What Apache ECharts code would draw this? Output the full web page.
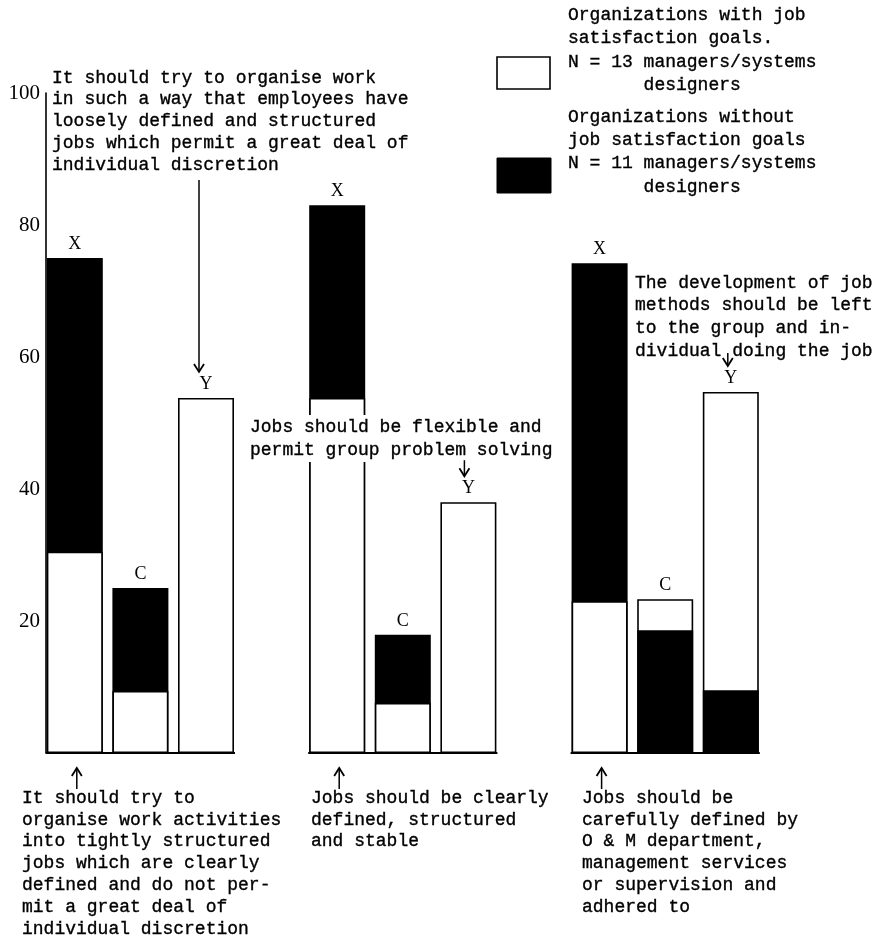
<!DOCTYPE html>
<html><head><meta charset="utf-8">
<script src="https://cdn.jsdelivr.net/npm/echarts@6/dist/echarts.min.js"></script>
<style>html,body{margin:0;padding:0;background:#fff}#c{width:876px;height:938px}</style>
</head><body><div id="c"></div>
<script>
// ---- data ----
const categories = ['X','C','Y','','X','C','Y','','X','C','Y'];
const withGoals    = [30.5, 9.4, 53.8, null, 53.8, 7.6, 38.0, null, 23.0, 23.3, 54.7];
const withoutGoals = [75.0, 25.0, 0,   null, 83.0, 17.9, 0,   null, 74.2, 18.6, 9.5];
const yTicks = [20, 40, 60, 80, 100];
const groupRanges = [[0, 2], [4, 6], [8, 10]];

const legendWithText = ['Organizations with job', 'satisfaction goals.', 'N = 13 managers/systems', '       designers'];
const legendWithoutText = ['Organizations without', 'job satisfaction goals', 'N = 11 managers/systems', '       designers'];
const noteTop = ['It should try to organise work', 'in such a way that employees have', 'loosely defined and structured', 'jobs which permit a great deal of', 'individual discretion'];
const noteMid = ['Jobs should be flexible and', 'permit group problem solving'];
const noteRight = ['The development of job', 'methods should be left', 'to the group and in-', 'dividual doing the job'];
const noteBottom1 = ['It should try to', 'organise work activities', 'into tightly structured', 'jobs which are clearly', 'defined and do not per-', 'mit a great deal of', 'individual discretion'];
const noteBottom2 = ['Jobs should be clearly', 'defined, structured', 'and stable'];
const noteBottom3 = ['Jobs should be', 'carefully defined by', 'O & M department,', 'management services', 'or supervision and', 'adhered to'];

// ---- build ----
const BAR_W = 56;
const MONO = '18px "Liberation Mono", "DejaVu Sans Mono", monospace';
const SERIF = '"Liberation Serif", "DejaVu Serif", serif';
const INK = '#000';

const clean = v => (v === null || v === 0) ? '-' : v;
const backWhite = [], backBlack = [], frontWhite = [], frontBlack = [];
categories.forEach((c, i) => {
  const w = withGoals[i], b = withoutGoals[i];
  if (w === null && b === null) { backWhite.push('-'); backBlack.push('-'); frontWhite.push('-'); frontBlack.push('-'); return; }
  if ((w || 0) >= (b || 0)) { backWhite.push(clean(w)); frontBlack.push(clean(b)); backBlack.push('-'); frontWhite.push('-'); }
  else { backBlack.push(clean(b)); frontWhite.push(clean(w)); backWhite.push('-'); frontBlack.push('-'); }
});

const whiteStyle = { color: '#fff', borderColor: INK, borderWidth: 1.6 };
const blackStyle = { color: INK, borderColor: INK, borderWidth: 1.6 };
const topLabel = {
  show: true, position: 'top', distance: 5, color: INK,
  fontFamily: SERIF, fontSize: 18,
  formatter: p => categories[p.dataIndex]
};
function barSeries(name, data, style, z, label) {
  return { type: 'bar', name, data, barWidth: BAR_W, barGap: '-100%', itemStyle: style, z,
    label: label ? topLabel : { show: false }, emphasis: { disabled: true }, animation: false };
}

const chart = echarts.init(document.getElementById('c'), null, { renderer: 'canvas' });
chart.setOption({
  animation: false,
  backgroundColor: '#fff',
  grid: { left: 42, right: 112.4, top: 93, bottom: 185, containLabel: false },
  xAxis: { type: 'category', data: categories, axisLine: { show: false }, axisTick: { show: false }, axisLabel: { show: false }, splitLine: { show: false } },
  yAxis: {
    type: 'value', min: 0, max: 100, interval: 20, offset: -4,
    axisLine: { show: true, lineStyle: { color: INK, width: 1.6 } },
    axisTick: { show: false }, splitLine: { show: false },
    axisLabel: { margin: 6, color: INK, fontFamily: SERIF, fontSize: 21,
      formatter: v => yTicks.indexOf(v) >= 0 ? String(v) : '' }
  },
  series: [
    barSeries('with goals', backWhite, whiteStyle, 2, true),
    barSeries('without goals', backBlack, blackStyle, 2, true),
    barSeries('with goals front', frontWhite, whiteStyle, 3, false),
    barSeries('without goals front', frontBlack, blackStyle, 3, false),
    {
      type: 'custom', data: groupRanges, z: 5, clip: false, silent: true,
      encode: { x: [0, 1] },
      renderItem: (params, api) => {
        const s = api.coord([api.value(0), 0]);
        const e = api.coord([api.value(1), 0]);
        return { type: 'line', shape: { x1: s[0] - BAR_W / 2 - 1, y1: s[1], x2: e[0] + BAR_W / 2 + 1, y2: s[1] },
          style: { stroke: INK, lineWidth: 2 } };
      }
    }
  ]
});

// ---- annotations ----
const g = [];
function lines(arr, x, y0, dy, bg) {
  arr.forEach((t, k) => g.push({ type: 'text', x, y: y0 + k * dy, z: 20,
    style: Object.assign({ text: t, font: MONO, fill: INK, stroke: INK, lineWidth: 0.35, verticalAlign: 'middle', align: 'left' },
      bg ? { backgroundColor: '#fff', padding: [3, 2] } : {}) }));
}
lines(legendWithText, 568, 15, 23.5);
lines(legendWithoutText, 568, 117, 23.3);
lines(noteTop, 52, 78, 21.7);
lines(noteMid, 248, 427, 23, true);
lines(noteRight, 635, 283, 22.6);
lines(noteBottom1, 22, 798, 21.8);
lines(noteBottom2, 311, 798, 21.8);
lines(noteBottom3, 582, 798, 21.8);

g.push({ type: 'rect', shape: { x: 497, y: 57, width: 53, height: 32 }, style: { fill: '#fff', stroke: INK, lineWidth: 1.6 } });
g.push({ type: 'rect', shape: { x: 497, y: 158, width: 54, height: 35 }, style: { fill: INK, stroke: INK, lineWidth: 1 } });

const toPx = (i, v) => chart.convertToPixel({ xAxisIndex: 0, yAxisIndex: 0 }, [i, v]);
function arrow(x, yTail, yTip) {
  const dir = yTip > yTail ? 1 : -1;
  g.push({ type: 'line', z: 20, shape: { x1: x, y1: yTail, x2: x, y2: yTip }, style: { stroke: INK, lineWidth: 1.5 } });
  g.push({ type: 'polyline', z: 20, shape: { points: [[x - 5, yTip - dir * 8], [x, yTip], [x + 5, yTip - dir * 8]] }, style: { stroke: INK, lineWidth: 1.8, fill: null } });
}
const topOf = i => Math.max(withGoals[i] || 0, withoutGoals[i] || 0);
[[2, -7, null], [6, -4, 16], [10, -3, 13]].forEach(([i, dx, len]) => {
  const p = toPx(i, topOf(i));
  const tip = p[1] - 26;
  arrow(p[0] + dx, len === null ? 180 : tip - len, tip);
});
[0, 4, 8].forEach(i => {
  const p = toPx(i, 0);
  arrow(p[0] + 2, p[1] + 36, p[1] + 15);
});
chart.setOption({ graphic: g });
</script>
</body></html>
